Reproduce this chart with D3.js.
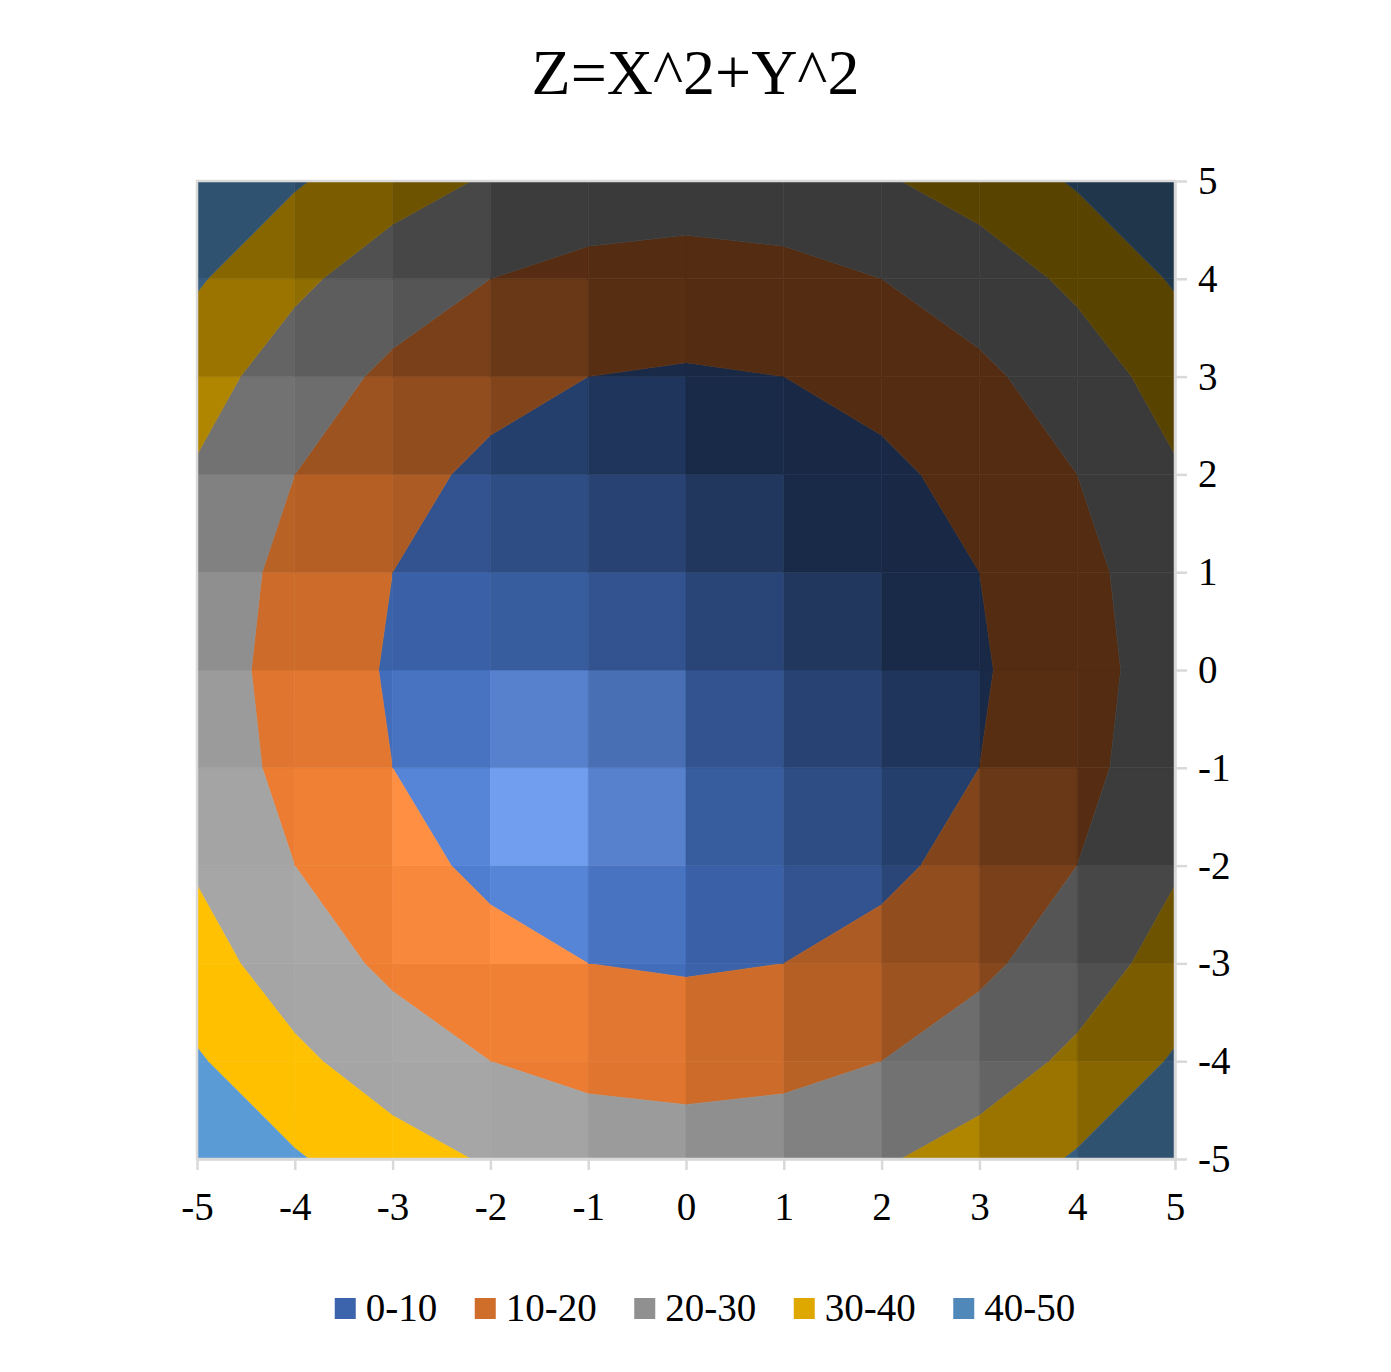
<!DOCTYPE html>
<html>
<head>
<meta charset="utf-8">
<script src="https://cdn.jsdelivr.net/npm/d3@7"></script>
<style>
  body { margin: 0; background: #ffffff; }
  svg { display: block; }
  text { font-family: "Liberation Serif", "Times New Roman", serif; }
</style>
</head>
<body>
<svg id="chart" width="1391" height="1372"></svg>
<script>
// ---------------- data ----------------
const chartTitle = "Z=X^2+Y^2";
const xValues = [-5, -4, -3, -2, -1, 0, 1, 2, 3, 4, 5];
const yValues = [-5, -4, -3, -2, -1, 0, 1, 2, 3, 4, 5];
// zValues[row for y][column for x]
const zValues = [
  [50, 41, 34, 29, 26, 25, 26, 29, 34, 41, 50],
  [41, 32, 25, 20, 17, 16, 17, 20, 25, 32, 41],
  [34, 25, 18, 13, 10,  9, 10, 13, 18, 25, 34],
  [29, 20, 13,  8,  5,  4,  5,  8, 13, 20, 29],
  [26, 17, 10,  5,  2,  1,  2,  5, 10, 17, 26],
  [25, 16,  9,  4,  1,  0,  1,  4,  9, 16, 25],
  [26, 17, 10,  5,  2,  1,  2,  5, 10, 17, 26],
  [29, 20, 13,  8,  5,  4,  5,  8, 13, 20, 29],
  [34, 25, 18, 13, 10,  9, 10, 13, 18, 25, 34],
  [41, 32, 25, 20, 17, 16, 17, 20, 25, 32, 41],
  [50, 41, 34, 29, 26, 25, 26, 29, 34, 41, 50]
];
const bandLabels = ["0-10", "10-20", "20-30", "30-40", "40-50"];
const bandLower  = [0, 10, 20, 30, 40];
const bandUpper  = [10, 20, 30, 40, 50];
const bandColors = ["#4472C4", "#ED7D31", "#A5A5A5", "#FFC000", "#5B9BD5"];
const xTicks = [-5, -4, -3, -2, -1, 0, 1, 2, 3, 4, 5];
const yTicks = [-5, -4, -3, -2, -1, 0, 1, 2, 3, 4, 5];

// ---------------- layout ----------------
const svg = d3.select("#chart");
const plot = { left: 197, right: 1175, top: 181, bottom: 1159 };
const x = d3.scaleLinear().domain([d3.min(xValues), d3.max(xValues)]).range([plot.left, plot.right]);
const y = d3.scaleLinear().domain([d3.min(yValues), d3.max(yValues)]).range([plot.bottom, plot.top]);
const FONT = '"Liberation Serif", "Times New Roman", serif';

// ---------------- lighting (3-D surface seen from the top) ----------------
function norm(v) { const l = Math.hypot(v[0], v[1], v[2]); return [v[0] / l, v[1] / l, v[2] / l]; }
const zScale = 0.148;
const light = norm([0.588, 0.588, 0.555]);
const halfV = norm([light[0], light[1], light[2] + 1]);
const ambient = 0.35, diffuse = 0.69, specAmt = 50, shininess = 30;

function shade(base, gx, gy) {
  const n = norm([-zScale * gx, -zScale * gy, 1]);
  const nl = Math.max(0, n[0] * light[0] + n[1] * light[1] + n[2] * light[2]);
  const nh = Math.max(0, n[0] * halfV[0] + n[1] * halfV[1] + n[2] * halfV[2]);
  const f = Math.min(1, ambient + diffuse * nl);
  const sp = specAmt * Math.pow(nh, shininess);
  const c = d3.rgb(base);
  const ch = v => Math.max(0, Math.min(255, Math.round(v * f + sp)));
  return d3.rgb(ch(c.r), ch(c.g), ch(c.b)).formatHex();
}

// clip a polygon [x, y, z] against z >= level (above) or z <= level
function clip(poly, level, above) {
  const out = [];
  for (let k = 0; k < poly.length; k++) {
    const a = poly[k], b = poly[(k + 1) % poly.length];
    const ina = above ? a[2] >= level : a[2] <= level;
    const inb = above ? b[2] >= level : b[2] <= level;
    if (ina) out.push(a);
    if (ina !== inb) {
      const t = (level - a[2]) / (b[2] - a[2]);
      out.push([a[0] + t * (b[0] - a[0]), a[1] + t * (b[1] - a[1]), level]);
    }
  }
  return out;
}
function area(p) {
  let s = 0;
  for (let k = 0; k < p.length; k++) {
    const a = p[k], b = p[(k + 1) % p.length];
    s += a[0] * b[1] - b[0] * a[1];
  }
  return Math.abs(s / 2);
}

const cells = [];
for (let j = 0; j < yValues.length - 1; j++) {
  for (let i = 0; i < xValues.length - 1; i++) {
    const x0 = xValues[i], x1 = xValues[i + 1], y0 = yValues[j], y1 = yValues[j + 1];
    const z00 = zValues[j][i], z10 = zValues[j][i + 1], z01 = zValues[j + 1][i], z11 = zValues[j + 1][i + 1];
    const gx = ((z10 + z11) - (z00 + z01)) / 2 / (x1 - x0);
    const gy = ((z01 + z11) - (z00 + z10)) / 2 / (y1 - y0);
    const quad = [[x0, y0, z00], [x1, y0, z10], [x1, y1, z11], [x0, y1, z01]];
    bandLabels.forEach((lab, b) => {
      let p = clip(quad, bandLower[b], true);
      if (p.length < 3) return;
      p = clip(p, bandUpper[b], false);
      if (p.length < 3 || area(p) < 1e-9) return;
      cells.push({ pts: p, color: shade(bandColors[b], gx, gy) });
    });
  }
}

const line = d3.line().x(d => x(d[0])).y(d => y(d[1]));
svg.append("g").selectAll("path").data(cells).join("path")
  .attr("d", d => line(d.pts) + "Z")
  .attr("fill", d => d.color)
  .attr("stroke", d => d.color)
  .attr("stroke-width", 0.6)
  .attr("stroke-linejoin", "round");

// plot frame
svg.append("rect")
  .attr("x", plot.left).attr("y", plot.top)
  .attr("width", plot.right - plot.left).attr("height", plot.bottom - plot.top)
  .attr("fill", "none").attr("stroke", "#D9D9D9").attr("stroke-width", 2.5);

// axes
const xAxis = d3.axisBottom(x).tickValues(xTicks).tickFormat(d => String(d))
  .tickSize(11).tickSizeOuter(0).tickPadding(22);
const gx = svg.append("g").attr("transform", `translate(0,${plot.bottom})`).call(xAxis);
const yAxis = d3.axisRight(y).tickValues(yTicks).tickFormat(d => String(d))
  .tickSize(12).tickSizeOuter(0).tickPadding(11);
const gy = svg.append("g").attr("transform", `translate(${plot.right},0)`).call(yAxis);
[gx, gy].forEach(g => {
  g.attr("font-family", null).attr("font-size", null);
  g.select(".domain").attr("stroke", "#D9D9D9").attr("stroke-width", 2.5);
  g.selectAll(".tick line").attr("stroke", "#D9D9D9").attr("stroke-width", 2.5);
  g.selectAll(".tick text").attr("fill", "#000")
    .style("font-family", FONT).style("font-size", "39px");
});

// title
svg.append("text")
  .attr("x", 695.5).attr("y", 94)
  .attr("text-anchor", "middle")
  .style("font-family", FONT).style("font-size", "64px").attr("fill", "#000")
  .text(chartTitle);

// legend
const legendColors = bandColors.map(c => {
  const r = d3.rgb(c);
  return d3.rgb(r.r * 0.875, r.g * 0.875, r.b * 0.875).formatHex();
});
const lg = svg.append("g");
const sw = 21, gapText = 10, gapItem = 37.5;
let cx = 0;
bandLabels.forEach((lab, i) => {
  const item = lg.append("g").attr("transform", `translate(${cx},0)`);
  item.append("rect").attr("x", 0).attr("y", 1298).attr("width", sw).attr("height", sw)
    .attr("fill", legendColors[i]);
  const t = item.append("text").attr("x", sw + gapText).attr("y", 1321)
    .style("font-family", FONT).style("font-size", "39px").attr("fill", "#000").text(lab);
  cx += sw + gapText + t.node().getComputedTextLength() + gapItem;
});
const total = cx - gapItem;
lg.attr("transform", `translate(${705 - total / 2},0)`);
</script>
</body>
</html>
